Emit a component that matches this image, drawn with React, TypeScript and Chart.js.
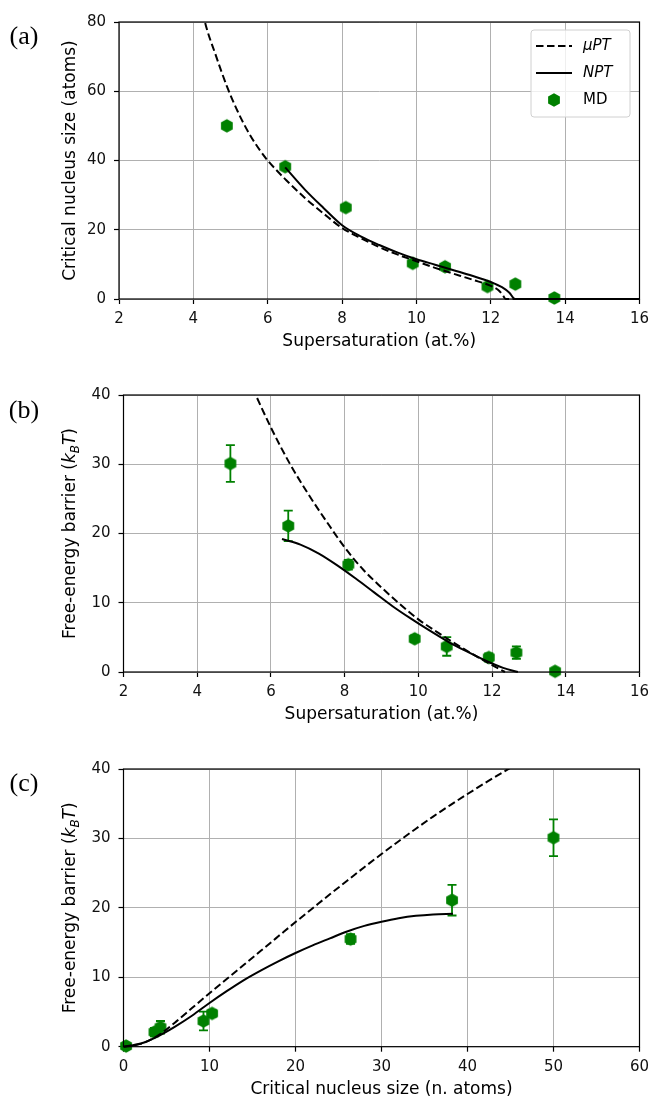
import React, { useEffect, useRef } from "react";
import { Chart, registerables } from "chart.js";

Chart.register(...registerables);

// ---------- data ----------
// MD simulation points
const MD_SUPERSAT = [4.9, 6.47, 8.1, 9.9, 10.77, 11.91, 12.66, 13.71];
const MD_SIZE = [50.0, 38.2, 26.4, 10.3, 9.3, 3.6, 4.3, 0.3];
const MD_BARRIER = [30.1, 21.1, 15.5, 4.8, 3.7, 2.1, 2.8, 0.1];
const MD_BARRIER_ERR = [2.65, 2.2, 0.7, 0.5, 1.35, 0.6, 0.9, 0.2];

// (a) critical size vs supersaturation
const MUPT_SIZE_X = [4.2, 4.3, 4.6, 4.9, 5.2, 5.5, 5.8, 6.0, 6.5, 7.0, 7.5, 8.0, 8.5, 9.0, 9.5, 10.0, 10.5, 11.0, 11.5, 12.0, 12.2, 12.32, 12.4, 13.0, 16.0];
const MUPT_SIZE_Y = [86, 80.5, 70.5, 61.5, 54, 47.8, 42.8, 40, 34.3, 29.2, 24.7, 20.5, 17.6, 15.0, 12.8, 10.9, 9.0, 7.3, 5.6, 3.8, 2.6, 1.2, 0, 0, 0];
const NPT_SIZE_X = [6.47, 7.0, 7.5, 8.0, 8.5, 9.0, 9.5, 10.0, 10.5, 11.0, 11.5, 12.0, 12.3, 12.5, 12.65, 13.0, 16.0];
const NPT_SIZE_Y = [38.0, 31.6, 26.3, 21.3, 18.1, 15.6, 13.4, 11.5, 9.9, 8.3, 6.7, 4.9, 3.4, 1.8, 0, 0, 0];

// (b) barrier vs supersaturation
const MUPT_BARRIER_X = [5.5, 6.0, 6.5, 7.0, 7.5, 8.0, 8.5, 9.0, 9.5, 10.0, 10.5, 11.0, 11.5, 12.0, 12.35];
const MUPT_BARRIER_Y = [41.0, 35.3, 30.2, 25.8, 21.8, 18.0, 14.8, 12.2, 9.8, 7.6, 5.8, 4.1, 2.5, 1.0, 0];
const NPT_BARRIER_X = [6.3, 6.8, 7.3, 7.8, 8.3, 8.8, 9.3, 9.8, 10.3, 10.8, 11.3, 11.8, 12.3, 12.7];
const NPT_BARRIER_Y = [19.2, 18.4, 17.1, 15.4, 13.5, 11.5, 9.5, 7.7, 6.0, 4.4, 3.0, 1.7, 0.6, 0];

// (c) barrier vs critical size
const MUPT_C_X = [0, 2, 4, 6, 8, 10, 12, 14, 16, 18, 20, 22, 24, 26, 28, 30, 32, 34, 36, 38, 40, 42, 44, 46];
const MUPT_C_Y = [0, 0.4, 1.6, 3.5, 5.6, 7.7, 9.75, 11.8, 13.85, 15.9, 17.95, 19.95, 21.95, 23.9, 25.85, 27.75, 29.6, 31.4, 33.15, 34.8, 36.4, 37.95, 39.45, 40.9];
const NPT_C_X = [0, 2, 4, 6, 8, 10, 12, 14, 16, 18, 20, 22, 24, 26, 28, 30, 32, 34, 36, 38.3];
const NPT_C_Y = [0, 0.45, 1.5, 2.9, 4.5, 6.3, 8.0, 9.6, 11.0, 12.3, 13.5, 14.6, 15.6, 16.6, 17.4, 18.0, 18.5, 18.85, 19.05, 19.15];

// axis ranges / ticks
const SUPERSAT_RANGE = [2, 16, 2];
const SIZE_RANGE_A = [0, 80, 20];
const BARRIER_RANGE = [0, 40, 10];
const SIZE_RANGE_C = [0, 60, 10];

const LEGEND_LABELS = ["\u03bcPT", "NPT", "MD"];

// ---------- styling ----------
const GREEN = "#008000";
const FONT = '"DejaVu Sans"';
const TICK_SIZE = 15;
const TITLE_SIZE = 17;
const W = 652;

type Seg = { t: string; italic?: boolean; sub?: boolean };

const BARRIER_TITLE: Seg[] = [
  { t: "Free-energy barrier (" },
  { t: "k", italic: true },
  { t: "B", italic: true, sub: true },
  { t: "T", italic: true },
  { t: ")" },
];

interface Panel {
  top: number;
  height: number;
  plotTop: number;
  plotBottom: number;
  plotLeft: number;
  plotRight: number;
  xr: number[];
  yr: number[];
  xTitle: string;
  yTitle: Seg[];
  label: string;
  labelY: number;
  curves: { x: number[]; y: number[]; dashed: boolean; label: string }[];
  md: { x: number[]; y: number[]; e?: number[] };
  legend?: boolean;
}

const PANELS: Panel[] = [
  {
    top: 0,
    height: 360,
    plotTop: 22,
    plotBottom: 299,
    plotLeft: 119,
    plotRight: 639.5,
    xr: SUPERSAT_RANGE,
    yr: SIZE_RANGE_A,
    xTitle: "Supersaturation (at.%)",
    yTitle: [{ t: "Critical nucleus size (atoms)" }],
    label: "(a)",
    labelY: 37,
    curves: [
      { x: MUPT_SIZE_X, y: MUPT_SIZE_Y, dashed: true, label: LEGEND_LABELS[0] },
      { x: NPT_SIZE_X, y: NPT_SIZE_Y, dashed: false, label: LEGEND_LABELS[1] },
    ],
    md: { x: MD_SUPERSAT, y: MD_SIZE },
    legend: true,
  },
  {
    top: 360,
    height: 370,
    plotTop: 395,
    plotBottom: 672,
    plotLeft: 123.5,
    plotRight: 639.5,
    xr: SUPERSAT_RANGE,
    yr: BARRIER_RANGE,
    xTitle: "Supersaturation (at.%)",
    yTitle: BARRIER_TITLE,
    label: "(b)",
    labelY: 411,
    curves: [
      { x: MUPT_BARRIER_X, y: MUPT_BARRIER_Y, dashed: true, label: LEGEND_LABELS[0] },
      { x: NPT_BARRIER_X, y: NPT_BARRIER_Y, dashed: false, label: LEGEND_LABELS[1] },
    ],
    md: { x: MD_SUPERSAT, y: MD_BARRIER, e: MD_BARRIER_ERR },
  },
  {
    top: 730,
    height: 370,
    plotTop: 769,
    plotBottom: 1046.7,
    plotLeft: 123.5,
    plotRight: 639.5,
    xr: SIZE_RANGE_C,
    yr: BARRIER_RANGE,
    xTitle: "Critical nucleus size (n. atoms)",
    yTitle: BARRIER_TITLE,
    label: "(c)",
    labelY: 784,
    curves: [
      { x: MUPT_C_X, y: MUPT_C_Y, dashed: true, label: LEGEND_LABELS[0] },
      { x: NPT_C_X, y: NPT_C_Y, dashed: false, label: LEGEND_LABELS[1] },
    ],
    md: { x: MD_SIZE, y: MD_BARRIER, e: MD_BARRIER_ERR },
  },
];

const DASH = [7.5, 3.5];

function makeHex(r: number, color: string): HTMLCanvasElement {
  const c = document.createElement("canvas");
  const s = Math.ceil(r * 2 + 2);
  c.width = s;
  c.height = s;
  const ctx = c.getContext("2d")!;
  ctx.fillStyle = color;
  ctx.beginPath();
  for (let i = 0; i < 6; i++) {
    const a = -Math.PI / 2 + (i * Math.PI) / 3;
    const x = s / 2 + r * Math.cos(a);
    const y = s / 2 + r * Math.sin(a);
    if (i === 0) ctx.moveTo(x, y);
    else ctx.lineTo(x, y);
  }
  ctx.closePath();
  ctx.fill();
  return c;
}

function drawSegs(ctx: CanvasRenderingContext2D, segs: Seg[], size: number) {
  const fontFor = (s: Seg) =>
    `${s.italic ? "italic " : ""}${s.sub ? size * 0.7 : size}px ${FONT}`;
  let total = 0;
  const widths = segs.map((s) => {
    ctx.font = fontFor(s);
    const w = ctx.measureText(s.t).width;
    total += w;
    return w;
  });
  let x = -total / 2;
  ctx.textAlign = "left";
  ctx.textBaseline = "alphabetic";
  const base = size * 0.36;
  segs.forEach((s, i) => {
    ctx.font = fontFor(s);
    ctx.fillText(s.t, x, base + (s.sub ? size * 0.22 : 0));
    x += widths[i];
  });
}

function makeDecor(p: Panel, hex: HTMLCanvasElement) {
  return {
    id: "decor",
    beforeDatasetsDraw(chart: any) {
      if (!p.md.e) return;
      const ctx: CanvasRenderingContext2D = chart.ctx;
      const xs = chart.scales.x;
      const ys = chart.scales.y;
      ctx.save();
      ctx.strokeStyle = GREEN;
      ctx.lineWidth = 1.8;
      p.md.x.forEach((xv, i) => {
        const e = p.md.e![i];
        const px = xs.getPixelForValue(xv);
        const y1 = ys.getPixelForValue(p.md.y[i] - e);
        const y2 = ys.getPixelForValue(p.md.y[i] + e);
        ctx.beginPath();
        ctx.moveTo(px, y1);
        ctx.lineTo(px, y2);
        ctx.moveTo(px - 4.5, y1);
        ctx.lineTo(px + 4.5, y1);
        ctx.moveTo(px - 4.5, y2);
        ctx.lineTo(px + 4.5, y2);
        ctx.stroke();
      });
      ctx.restore();
    },
    afterDatasetsDraw(chart: any) {
      const ctx: CanvasRenderingContext2D = chart.ctx;
      const a = chart.chartArea;
      ctx.save();
      ctx.strokeStyle = "#000";
      ctx.lineWidth = 1.2;
      ctx.strokeRect(a.left, a.top, a.right - a.left, a.bottom - a.top);
      ctx.restore();
    },
    afterDraw(chart: any) {
      const ctx: CanvasRenderingContext2D = chart.ctx;
      const a = chart.chartArea;
      ctx.save();
      ctx.fillStyle = "#000";
      // x title
      ctx.font = `${TITLE_SIZE}px ${FONT}`;
      ctx.textAlign = "center";
      ctx.textBaseline = "middle";
      ctx.fillText(p.xTitle, (a.left + a.right) / 2, a.bottom + 43);
      // y title
      ctx.save();
      ctx.translate(69, (a.top + a.bottom) / 2);
      ctx.rotate(-Math.PI / 2);
      drawSegs(ctx, p.yTitle, TITLE_SIZE);
      ctx.restore();
      // panel label
      ctx.font = `26px "Liberation Serif"`;
      ctx.textAlign = "center";
      ctx.textBaseline = "middle";
      ctx.fillText(p.label, 24, p.labelY - p.top);
      // legend
      if (p.legend) {
        const bx = 531, by = 30, bw = 99, bh = 87;
        ctx.beginPath();
        ctx.roundRect(bx, by, bw, bh, 3);
        ctx.fillStyle = "rgba(255,255,255,0.8)";
        ctx.fill();
        ctx.strokeStyle = "#d0d0d0";
        ctx.lineWidth = 1;
        ctx.stroke();
        const rows = [46, 73, 100];
        ctx.strokeStyle = "#000";
        ctx.lineWidth = 2;
        ctx.setLineDash(DASH);
        ctx.beginPath();
        ctx.moveTo(536, rows[0]);
        ctx.lineTo(572, rows[0]);
        ctx.stroke();
        ctx.setLineDash([]);
        ctx.beginPath();
        ctx.moveTo(536, rows[1]);
        ctx.lineTo(572, rows[1]);
        ctx.stroke();
        ctx.drawImage(hex, 554 - hex.width / 2, rows[2] - hex.height / 2);
        ctx.fillStyle = "#000";
        ctx.textAlign = "left";
        ctx.textBaseline = "middle";
        ctx.font = `italic ${TICK_SIZE}px ${FONT}`;
        ctx.fillText(LEGEND_LABELS[0], 583, rows[0]);
        ctx.fillText(LEGEND_LABELS[1], 583, rows[1]);
        ctx.font = `${TICK_SIZE}px ${FONT}`;
        ctx.fillText(LEGEND_LABELS[2], 583, rows[2]);
      }
      ctx.restore();
    },
  };
}

function buildConfig(p: Panel, hex: HTMLCanvasElement): any {
  const xAxisH = p.top + p.height - p.plotBottom;
  const tickFont = { family: FONT, size: TICK_SIZE };
  const grid = {
    color: "#b0b0b0",
    lineWidth: 1,
    drawTicks: true,
    tickLength: 5,
    tickColor: "#000",
    tickWidth: 1.2,
  };
  const datasets: any[] = p.curves.map((c) => ({
    type: "line",
    label: c.label,
    data: c.x.map((x, i) => ({ x, y: c.y[i] })),
    borderColor: "#000",
    borderWidth: 2,
    borderDash: c.dashed ? DASH : [],
    pointRadius: 0,
    fill: false,
    cubicInterpolationMode: "monotone",
    clip: { left: 0, top: 0, right: 0, bottom: 3 },
  }));
  datasets.push({
    type: "scatter",
    label: LEGEND_LABELS[2],
    data: p.md.x.map((x, i) => ({ x, y: p.md.y[i] })),
    pointStyle: hex,
    pointRadius: 7,
    backgroundColor: GREEN,
    borderWidth: 0,
    showLine: false,
    clip: false,
  });
  return {
    type: "scatter",
    data: { datasets },
    options: {
      responsive: false,
      animation: false,
      devicePixelRatio: 1,
      events: [],
      layout: {
        padding: { top: p.plotTop - p.top, right: W - p.plotRight, left: 0, bottom: 0 },
      },
      plugins: { legend: { display: false }, tooltip: { enabled: false } },
      scales: {
        x: {
          type: "linear",
          min: p.xr[0],
          max: p.xr[1],
          ticks: { stepSize: p.xr[2], font: tickFont, color: "#111", padding: 6, maxRotation: 0, autoSkip: false },
          grid,
          border: { display: false },
          afterFit: (s: any) => {
            s.height = xAxisH;
            s.paddingLeft = 0;
            s.paddingRight = 0;
          },
        },
        y: {
          type: "linear",
          min: p.yr[0],
          max: p.yr[1],
          ticks: { stepSize: p.yr[2], font: tickFont, color: "#111", padding: 8 },
          grid,
          border: { display: false },
          afterFit: (s: any) => {
            s.width = p.plotLeft;
            s.paddingTop = 0;
            s.paddingBottom = 0;
          },
        },
      },
    },
    plugins: [makeDecor(p, hex)],
  };
}

export default function App() {
  const r0 = useRef<HTMLCanvasElement>(null);
  const r1 = useRef<HTMLCanvasElement>(null);
  const r2 = useRef<HTMLCanvasElement>(null);
  const refs = [r0, r1, r2];

  useEffect(() => {
    const hex = makeHex(6.8, GREEN);
    const charts = PANELS.map((p, i) => new Chart(refs[i].current!, buildConfig(p, hex)));
    return () => charts.forEach((c) => c.destroy());
  }, []);

  return (
    <div style={{ position: "absolute", left: 0, top: 0, width: W, height: 1100, background: "#fff" }}>
      {PANELS.map((p, i) => (
        <canvas
          key={i}
          ref={refs[i]}
          width={W}
          height={p.height}
          style={{ position: "absolute", left: 0, top: p.top, width: W, height: p.height, display: "block" }}
        />
      ))}
    </div>
  );
}
